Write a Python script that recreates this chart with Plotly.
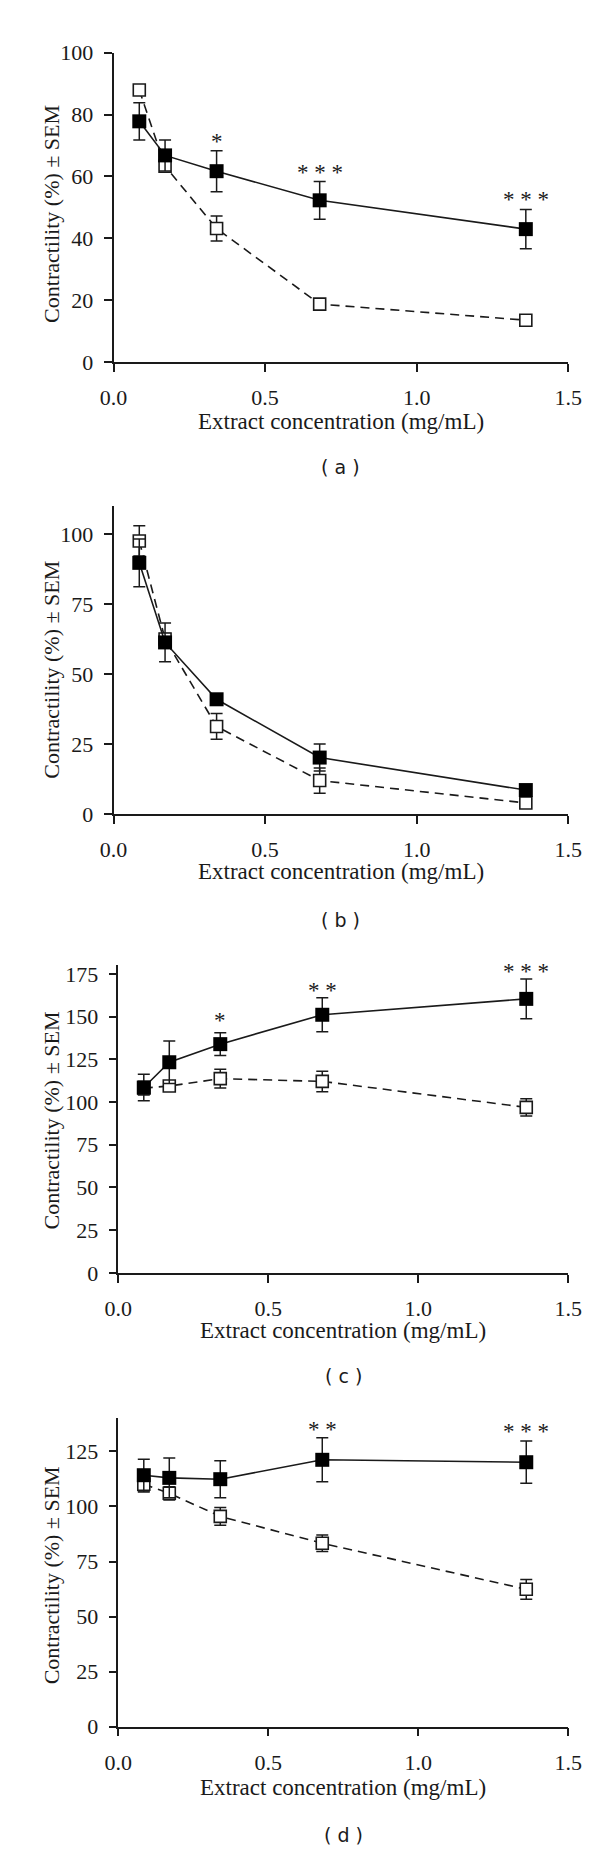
import plotly.graph_objects as go

W, H = 600, 1856

conc = [0.085, 0.17, 0.34, 0.68, 1.36]

a_filled = [77.8, 66.8, 61.7, 52.3, 43.0]
a_filled_sem = [6.0, 5.0, 6.6, 6.1, 6.3]
a_open = [87.9, 63.3, 43.2, 18.8, 13.6]
a_open_sem = [1.0, 1.0, 4.0, 1.0, 1.0]

b_filled = [89.7, 61.3, 41.0, 20.2, 8.6]
b_filled_sem = [8.5, 6.9, 1.5, 4.8, 1.0]
b_open = [97.5, 62.5, 31.3, 12.0, 4.0]
b_open_sem = [5.4, 2.0, 4.6, 4.5, 1.0]

c_filled = [108.5, 123.3, 133.9, 151.1, 160.4]
c_filled_sem = [7.8, 12.5, 6.7, 10.0, 11.7]
c_open = [108.2, 109.4, 113.7, 112.1, 96.9]
c_open_sem = [4.0, 3.0, 5.5, 6.0, 5.0]

d_filled = [114.2, 113.0, 112.4, 121.2, 120.1]
d_filled_sem = [7.2, 9.0, 8.4, 10.0, 9.6]
d_open = [110.1, 106.0, 95.5, 83.3, 62.4]
d_open_sem = [3.5, 3.0, 4.0, 3.7, 4.5]

a_stars_x = [0.34, 0.68, 1.36]
a_stars_y = [72.7, 62.6, 53.8]
a_stars_t = ["*", "* * *", "* * *"]
c_stars_x = [0.34, 0.68, 1.36]
c_stars_y = [150.3, 167.6, 179.0]
c_stars_t = ["*", "* *", "* * *"]
d_stars_x = [0.68, 1.36]
d_stars_y = [136.6, 135.8]
d_stars_t = ["* *", "* * *"]

y_ranges = [[0, 100], [0, 110], [0, 180], [0, 140]]
y_ticks = [[0, 20, 40, 60, 80, 100], [0, 25, 50, 75, 100],
           [0, 25, 50, 75, 100, 125, 150, 175], [0, 25, 50, 75, 100, 125]]
x_ticks = [0.0, 0.5, 1.0, 1.5]
x_ticktext = ["0.0", "0.5", "1.0", "1.5"]
panel_labels = ["( a )", "( b )", "( c )", "( d )"]
x_title = "Extract concentration (mg/mL)"
y_title = "Contractility (%) ± SEM"

# layout geometry in pixels
px_left = [96, 96, 101, 101]
px_right = [573, 573, 573, 573]
px_top = [33, 492.6, 958.3, 1417.5]
px_bottom = [347, 805, 1270, 1730]
px_xtitle = [407, 863, 1328, 1792]
px_ytitle = [197, 659, 1116, 1577]
px_label = [453, 912, 1375, 1840]

SERIF = "Liberation Serif"
INK = "#1a1a1a"

panels = [
    (a_filled, a_filled_sem, a_open, a_open_sem, a_stars_x, a_stars_y, a_stars_t),
    (b_filled, b_filled_sem, b_open, b_open_sem, [], [], []),
    (c_filled, c_filled_sem, c_open, c_open_sem, c_stars_x, c_stars_y, c_stars_t),
    (d_filled, d_filled_sem, d_open, d_open_sem, d_stars_x, d_stars_y, d_stars_t),
]

fig = go.Figure()
annotations = []

for i, (fv, fs, ov, os_, sx, sy, st) in enumerate(panels):
    n = "" if i == 0 else str(i + 1)
    xa, ya = "x" + n, "y" + n
    # open series (dashed)
    fig.add_trace(go.Scatter(
        x=conc, y=ov, xaxis=xa, yaxis=ya, mode="lines+markers",
        line=dict(color=INK, width=1.6, dash="9px,6px"),
        marker=dict(symbol="square", size=12, color="white",
                    line=dict(color=INK, width=1.6)),
        error_y=dict(type="data", array=os_, visible=True, color=INK,
                     thickness=1.5, width=6),
        cliponaxis=False, showlegend=False))
    # filled series (solid)
    fig.add_trace(go.Scatter(
        x=conc, y=fv, xaxis=xa, yaxis=ya, mode="lines+markers",
        line=dict(color=INK, width=1.6),
        marker=dict(symbol="square", size=14, color="black",
                    line=dict(color="black", width=0)),
        error_y=dict(type="data", array=fs, visible=True, color=INK,
                     thickness=1.5, width=6),
        cliponaxis=False, showlegend=False))

    xd = [px_left[i] / W, px_right[i] / W]
    yd = [1 - px_bottom[i] / H, 1 - px_top[i] / H]
    axis_common = dict(showgrid=False, zeroline=False, showline=True,
                       linecolor=INK, linewidth=1.5, ticks="outside",
                       ticklen=8, tickwidth=1.5, tickcolor=INK,
                       tickfont=dict(family=SERIF, size=22, color=INK))
    fig.layout["xaxis" + n] = dict(
        domain=xd, range=[0, 1.5], tickvals=x_ticks, ticktext=x_ticktext,
        anchor=ya, ticklabelstandoff=7, **axis_common)
    fig.layout["yaxis" + n] = dict(
        domain=yd, range=y_ranges[i], tickvals=y_ticks[i],
        anchor=xa, ticklabelstandoff=6, **axis_common)

    cx = (px_left[i] + px_right[i]) / 2 / W
    annotations.append(dict(
        text=x_title, xref="paper", yref="paper", x=cx,
        y=1 - px_xtitle[i] / H, xanchor="center", yanchor="middle",
        showarrow=False, font=dict(family=SERIF, size=23, color=INK)))
    annotations.append(dict(
        text=y_title, xref="paper", yref="paper", x=31 / W,
        y=1 - px_ytitle[i] / H, textangle=-90,
        xanchor="center", yanchor="middle", showarrow=False,
        font=dict(family=SERIF, size=22, color=INK)))
    annotations.append(dict(
        text=panel_labels[i], xref="paper", yref="paper", x=cx,
        y=1 - px_label[i] / H, xanchor="center", yanchor="middle",
        showarrow=False, font=dict(family="DejaVu Sans", size=19, color=INK)))
    for x_, y_, t_ in zip(sx, sy, st):
        annotations.append(dict(
            text=t_, xref=xa, yref=ya, x=x_, y=y_, xanchor="center",
            yanchor="middle", showarrow=False, yshift=-4,
            font=dict(family=SERIF, size=23, color=INK)))

fig.update_layout(
    width=W, height=H, margin=dict(l=0, r=0, t=0, b=0),
    paper_bgcolor="white", plot_bgcolor="white",
    annotations=annotations, showlegend=False)

fig.write_html("out.html")
